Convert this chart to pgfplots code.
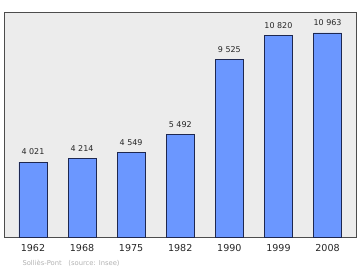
\documentclass[border=0pt]{standalone}
\usepackage{pgfplots}
\pgfplotsset{compat=1.18}
\usepackage{fontspec}
\setmainfont{DejaVu Sans}
\definecolor{barfill}{RGB}{107,151,255}
\definecolor{bgfill}{RGB}{236,236,236}
\definecolor{bardraw}{RGB}{30,40,80}
\begin{document}
\begin{tikzpicture}[x=1bp,y=1bp]
\path[use as bounding box] (0,0) rectangle (360,270);
\begin{axis}[
  at={(4bp,33bp)}, anchor=south west,
  scale only axis, width=352bp, height=225bp,
  xmin=-0.59, xmax=6.58, ymin=0, ymax=12090,
  axis background/.style={fill=bgfill},
  axis line style={draw=black!70, line width=0.8pt},
  xtick={0,1,2,3,4,5,6},
  xticklabels={1962,1968,1975,1982,1990,1999,2008},
  ytick=\empty,
  major tick length=0pt,
  xticklabel style={font=\fontsize{9.6}{12}\selectfont, text=black!85, yshift=-4bp},
  /pgf/number format/assume math mode=true,
  ybar, bar width=0.57,
  nodes near coords,
  point meta=explicit symbolic,
  every node near coord/.append style={font=\fontsize{8}{9}\selectfont, text=black!85, yshift=3.5bp},
  clip=false,
]
\addplot[fill=barfill, draw=bardraw, line width=0.6pt] coordinates {
  (0,4021) [4 021]
  (1,4214) [4 214]
  (2,4549) [4 549]
  (3,5492) [5 492]
  (4,9525) [9 525]
  (5,10820) [10 820]
  (6,10963) [10 963]
};
\end{axis}
\node[anchor=west, font=\fontsize{6.8}{8}\selectfont, text=black!30] at (19,7) {Solliès-Pont\quad(source: Insee)};
\end{tikzpicture}
\end{document}
